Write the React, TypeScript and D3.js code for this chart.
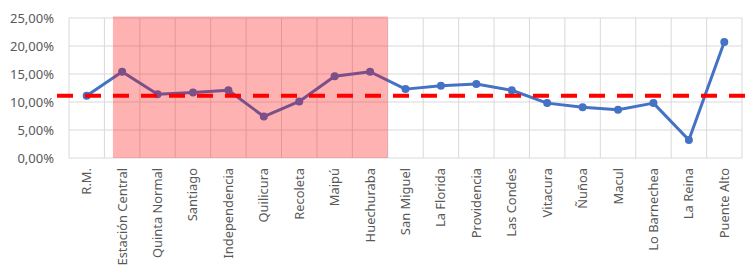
import React from "react";
import * as d3 from "d3";

const categories = [
  "R.M.", "Estación Central", "Quinta Normal", "Santiago", "Independencia",
  "Quilicura", "Recoleta", "Maipú", "Huechuraba", "San Miguel", "La Florida",
  "Providencia", "Las Condes", "Vitacura", "Ñuñoa", "Macul", "Lo Barnechea",
  "La Reina", "Puente Alto",
];
const values = [
  11.1, 15.4, 11.4, 11.7, 12.1, 7.4, 10.1, 14.6, 15.4, 12.3, 12.9,
  13.2, 12.1, 9.8, 9.05, 8.6, 9.8, 3.2, 20.7,
];
const referenceValue = 11.1;
const yTicks = [0, 5, 10, 15, 20, 25];
const highlightFrom = "Estación Central";
const highlightTo = "Huechuraba";

const W = 752, H = 272;
const left = 69, right = 742, top = 18, bottom = 158;
const FONT = "'Noto Sans', 'Open Sans', sans-serif";
const TXT = "#595959";
const GRID = "#D9D9D9";

export default function App() {
  const x = d3.scaleBand<string>().domain(categories).range([left, right]).padding(0);
  const y = d3.scaleLinear().domain([0, 25]).range([bottom, top]);
  const step = x.step();
  const cx = (c: string) => (x(c) as number) + step / 2;
  const fmt = (v: number) => v.toFixed(2).replace(".", ",") + "%";

  const line = d3.line<number>().x((_, i) => cx(categories[i])).y((d) => y(d));

  const hx0 = cx(highlightFrom) - step * 0.26;
  const hx1 = cx(highlightTo) + step / 2;

  return (
    <svg width={W} height={H} style={{ position: "absolute", left: 0, top: 0, background: "#fff" }}>
      {yTicks.map((t) => (
        <line key={"h" + t} x1={left} x2={right} y1={y(t)} y2={y(t)} stroke={GRID} strokeWidth={1} />
      ))}
      {d3.range(categories.length + 1).map((i) => (
        <line key={"v" + i} x1={left + i * step} x2={left + i * step} y1={top} y2={bottom} stroke={GRID} strokeWidth={1} />
      ))}
      {yTicks.map((t) => (
        <text key={"yt" + t} x={54} y={y(t)} dy="0.35em" textAnchor="end" fontFamily={FONT} fontSize={13} fill={TXT}>
          {fmt(t)}
        </text>
      ))}
      {categories.map((c) => (
        <text key={"xt" + c} transform={`translate(${cx(c)},${bottom + 10}) rotate(-90)`} textAnchor="end"
          dy="0.35em" fontFamily={FONT} fontSize={12.9} fill={TXT}>
          {c}
        </text>
      ))}
      <path d={line(values) || ""} fill="none" stroke="#4472C4" strokeWidth={3} strokeLinejoin="round" />
      {values.map((v, i) => (
        <circle key={"p" + i} cx={cx(categories[i])} cy={y(v)} r={4} fill="#4472C4" />
      ))}
      <rect x={hx0} y={top - 1.5} width={hx1 - hx0} height={bottom - top + 1.5} fill="#FF0000" fillOpacity={0.3} />
      <line x1={57} x2={W} y1={y(referenceValue)} y2={y(referenceValue)} stroke="#FF0000" strokeWidth={4} strokeDasharray="16 12" />
    </svg>
  );
}
